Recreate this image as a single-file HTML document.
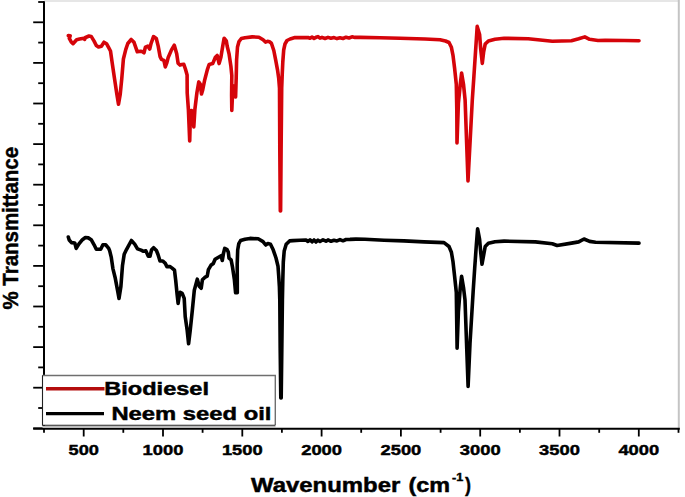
<!DOCTYPE html>
<html><head><meta charset="utf-8"><style>
html,body{margin:0;padding:0;background:#fff;}
svg{display:block;}
text{font-family:"Liberation Sans",sans-serif;font-weight:bold;fill:#000;stroke:#000;stroke-width:0.45px;}
</style></head><body>
<svg width="685" height="497" viewBox="0 0 685 497">
<line x1="44" y1="1" x2="678" y2="1" stroke="#e6e6e6" stroke-width="2.2"/>
<line x1="678.8" y1="0" x2="678.8" y2="429" stroke="#c4c4c4" stroke-width="2"/>
<line x1="38.2" y1="2.0" x2="44" y2="2.0" stroke="#000" stroke-width="1.8"/>
<line x1="33.2" y1="22.3" x2="44" y2="22.3" stroke="#000" stroke-width="1.8"/>
<line x1="38.2" y1="42.6" x2="44" y2="42.6" stroke="#000" stroke-width="1.8"/>
<line x1="33.2" y1="62.9" x2="44" y2="62.9" stroke="#000" stroke-width="1.8"/>
<line x1="38.2" y1="83.2" x2="44" y2="83.2" stroke="#000" stroke-width="1.8"/>
<line x1="33.2" y1="103.5" x2="44" y2="103.5" stroke="#000" stroke-width="1.8"/>
<line x1="38.2" y1="123.8" x2="44" y2="123.8" stroke="#000" stroke-width="1.8"/>
<line x1="33.2" y1="144.1" x2="44" y2="144.1" stroke="#000" stroke-width="1.8"/>
<line x1="38.2" y1="164.4" x2="44" y2="164.4" stroke="#000" stroke-width="1.8"/>
<line x1="33.2" y1="184.7" x2="44" y2="184.7" stroke="#000" stroke-width="1.8"/>
<line x1="38.2" y1="205.0" x2="44" y2="205.0" stroke="#000" stroke-width="1.8"/>
<line x1="33.2" y1="225.3" x2="44" y2="225.3" stroke="#000" stroke-width="1.8"/>
<line x1="38.2" y1="245.6" x2="44" y2="245.6" stroke="#000" stroke-width="1.8"/>
<line x1="33.2" y1="265.9" x2="44" y2="265.9" stroke="#000" stroke-width="1.8"/>
<line x1="38.2" y1="286.2" x2="44" y2="286.2" stroke="#000" stroke-width="1.8"/>
<line x1="33.2" y1="306.5" x2="44" y2="306.5" stroke="#000" stroke-width="1.8"/>
<line x1="38.2" y1="326.8" x2="44" y2="326.8" stroke="#000" stroke-width="1.8"/>
<line x1="33.2" y1="347.1" x2="44" y2="347.1" stroke="#000" stroke-width="1.8"/>
<line x1="38.2" y1="367.4" x2="44" y2="367.4" stroke="#000" stroke-width="1.8"/>
<line x1="33.2" y1="387.7" x2="44" y2="387.7" stroke="#000" stroke-width="1.8"/>
<line x1="38.2" y1="408.0" x2="44" y2="408.0" stroke="#000" stroke-width="1.8"/>
<line x1="33.2" y1="428.3" x2="44" y2="428.3" stroke="#000" stroke-width="1.8"/>
<line x1="44.0" y1="428.7" x2="44.0" y2="432.8" stroke="#000" stroke-width="1.8"/>
<line x1="83.7" y1="428.7" x2="83.7" y2="436.5" stroke="#000" stroke-width="1.8"/>
<line x1="123.3" y1="428.7" x2="123.3" y2="432.8" stroke="#000" stroke-width="1.8"/>
<line x1="163.0" y1="428.7" x2="163.0" y2="436.5" stroke="#000" stroke-width="1.8"/>
<line x1="202.6" y1="428.7" x2="202.6" y2="432.8" stroke="#000" stroke-width="1.8"/>
<line x1="242.3" y1="428.7" x2="242.3" y2="436.5" stroke="#000" stroke-width="1.8"/>
<line x1="281.9" y1="428.7" x2="281.9" y2="432.8" stroke="#000" stroke-width="1.8"/>
<line x1="321.6" y1="428.7" x2="321.6" y2="436.5" stroke="#000" stroke-width="1.8"/>
<line x1="361.2" y1="428.7" x2="361.2" y2="432.8" stroke="#000" stroke-width="1.8"/>
<line x1="400.9" y1="428.7" x2="400.9" y2="436.5" stroke="#000" stroke-width="1.8"/>
<line x1="440.6" y1="428.7" x2="440.6" y2="432.8" stroke="#000" stroke-width="1.8"/>
<line x1="480.2" y1="428.7" x2="480.2" y2="436.5" stroke="#000" stroke-width="1.8"/>
<line x1="519.9" y1="428.7" x2="519.9" y2="432.8" stroke="#000" stroke-width="1.8"/>
<line x1="559.5" y1="428.7" x2="559.5" y2="436.5" stroke="#000" stroke-width="1.8"/>
<line x1="599.2" y1="428.7" x2="599.2" y2="432.8" stroke="#000" stroke-width="1.8"/>
<line x1="638.8" y1="428.7" x2="638.8" y2="436.5" stroke="#000" stroke-width="1.8"/>
<line x1="678.5" y1="428.7" x2="678.5" y2="432.8" stroke="#000" stroke-width="1.8"/>
<line x1="44" y1="1.2" x2="44" y2="429.6" stroke="#000" stroke-width="2"/>
<line x1="33.2" y1="428.7" x2="679.8" y2="428.7" stroke="#000" stroke-width="2"/>
<text x="68.5" y="455.3" font-size="15.4" textLength="30.4" lengthAdjust="spacingAndGlyphs">500</text>
<text x="142.6" y="455.3" font-size="15.4" textLength="40.8" lengthAdjust="spacingAndGlyphs">1000</text>
<text x="221.9" y="455.3" font-size="15.4" textLength="40.8" lengthAdjust="spacingAndGlyphs">1500</text>
<text x="301.2" y="455.3" font-size="15.4" textLength="40.8" lengthAdjust="spacingAndGlyphs">2000</text>
<text x="380.5" y="455.3" font-size="15.4" textLength="40.8" lengthAdjust="spacingAndGlyphs">2500</text>
<text x="459.8" y="455.3" font-size="15.4" textLength="40.8" lengthAdjust="spacingAndGlyphs">3000</text>
<text x="539.1" y="455.3" font-size="15.4" textLength="40.8" lengthAdjust="spacingAndGlyphs">3500</text>
<text x="618.4" y="455.3" font-size="15.4" textLength="40.8" lengthAdjust="spacingAndGlyphs">4000</text>
<text x="251" y="491.9" font-size="19.5" textLength="149.3" lengthAdjust="spacingAndGlyphs">Wavenumber</text>
<text x="408.5" y="491.9" font-size="19.5" textLength="41.6" lengthAdjust="spacingAndGlyphs">(cm</text>
<text x="452" y="480.8" font-size="11" textLength="11.2" lengthAdjust="spacingAndGlyphs">-1</text>
<text x="465" y="491.9" font-size="19.5" textLength="6" lengthAdjust="spacingAndGlyphs">)</text>
<text transform="translate(18.1,309.6) rotate(-90)" font-size="21.5" textLength="162.7" lengthAdjust="spacingAndGlyphs">% Transmittance</text>
<polyline points="68.3,35.6 70.2,35.7 69.3,38.4 71.5,42.3 73,43.7 76.6,39.7 79.5,39 83.9,38.2 84.6,39.4 85.6,37.5 89,36 91.2,36.4 94.1,41.1 96.3,45.5 98.5,47 101.4,46.2 104,42.2 106.5,43.7 108.7,47.7 110.5,51 112.1,62.3 114.5,78.4 116.9,94.5 118.5,104.2 120.2,94.5 121.8,78.4 123.4,59 125.8,49.4 127.8,43.5 131.2,39.5 134,42.3 137.3,51.8 140.7,51.3 142.6,51.8 144,52.8 145.4,47.1 147.8,46.1 149.7,49 151.1,43.3 153.5,36.6 156.3,38.5 158.2,46.1 160.1,56.6 161.5,59.4 163.9,60.4 165.3,67 166.7,63.2 168.2,57.5 171.5,49.9 174.3,45.2 176.7,53.7 178.1,63.2 180,65.1 181.9,64.6 183.8,64.2 185.7,69.9 187.1,75 187.2,92.8 188.4,109.7 189.7,141 190.4,114.7 191.5,110.5 192.4,124 193.2,112 193.8,127 194.9,109.3 196.9,92.8 198.8,81.9 200.3,84.3 201.5,94 202.7,89.9 204.5,80.8 207.3,69.9 209.1,64.5 212.7,63.6 215.4,57.2 217.2,55.4 219.1,63.6 220.9,57.2 222.7,46.3 224.1,38.2 226.3,40.9 227.2,46.3 229,53.6 230.9,66.3 231.8,75.4 231.6,95 231.8,110.4 232.6,92 234,86 235.6,97 236.2,78 236.6,60 237.5,47 239,41.5 241.3,38.6 245,37.8 252.2,36.9 258.9,37.2 263.1,39.7 265.5,42.1 267.5,41.3 269.5,41.8 271.4,43.2 273.8,50.5 275.7,60.1 277.5,69.8 278.7,78.2 279.5,88 279.8,150 280.3,211 280.6,211 281.1,150 281.7,88 282.2,75 282.8,62 283.7,50 285,44 287,40.5 290.1,39 295,37.6 308,37.5 310,38.3 312,37.1 314,38.4 316,37.3 318,36.6 320,38.2 322,37.4 325,38.5 328,37.4 331,38.3 334,37.6 337,38.6 340,37.8 343,38.5 346,37.2 349,38 352,36.8 355,37.4 360,37.4 380,37.8 400,38.3 425,39 440,39.7 445.5,41 449,42.5 451.4,47.3 453,55.4 454.6,68.2 456.3,84.3 456.8,110 457,143 458.4,103 460.3,84.3 461.6,73 463.5,84.3 465.1,100 468,181 469,162 472.3,100 473.9,76.3 475.5,52.2 477.2,26.4 479.6,34.5 480.7,49 482.3,63.4 483.6,52.2 485.2,44.1 488.4,40.9 495,39.3 504.1,38.3 528.2,38.8 552.3,41.2 571.5,40.7 578.7,38.8 584.8,36.9 589.6,39.3 598,40.5 605.2,40.2 624.5,40.5 639,40.7" fill="none" stroke="#d5040a" stroke-width="3.6" stroke-linejoin="round" stroke-linecap="round"/>
<polyline points="68.3,237 69.2,240 71.5,242.6 74.8,243 76.2,248.4 78.8,244.1 82.4,239.7 85.4,237.5 88.3,237.9 91.2,239.7 94.1,244.8 96.3,249.2 100.7,249.2 102.9,244.8 105.8,244.8 108.7,248.4 109.7,250.9 111.3,257.4 112.9,268.6 115.3,278.3 117.7,291.2 119,298.4 120.9,286.4 122.5,265.4 124.2,254.2 126.6,249.3 131.4,240.5 134.7,244.1 137.5,248.9 141.1,250.1 143.5,251.3 145.9,250.9 148.3,256.2 150,256.2 151.6,249.7 153.6,247.7 156.4,250.5 158,254.5 160,261 162.8,261 165.3,263.4 166.9,266.6 170.1,266.6 172.1,268.1 174.5,270.2 175.7,280.2 177.1,294.4 178.1,303.4 179.2,296 180.2,292.3 182.2,293.3 184.2,298.4 185.2,316.5 187.2,330.6 188.6,343.8 190.2,330.6 192.3,310.5 194.3,290.3 197.3,279.2 199.3,286.3 201.2,288.3 202.4,279.8 204.8,277.4 207.2,276.2 208.4,269.6 210.9,265.3 213.3,263.5 215.1,259.3 218.1,257.5 221.1,255.7 222.3,260.5 223.5,253.3 224.7,248.4 227.1,249.7 228.3,252.1 229,258.1 231.1,259.9 232.6,267.7 234.4,279.8 235.6,292.8 237.3,292.8 237.3,280 237.2,264.1 237.7,250 238.8,243.6 240.6,240.6 245,239.3 250,238.4 258.2,238.8 263,241.6 265.7,245 267.8,243.6 270.5,244.3 273.2,249.8 276,258 278,266.2 278.7,275.7 279.4,286.7 279.8,300 280.2,350 280.8,398 281.2,398 281.8,350 282.4,300 282.8,280 283.3,262 284.2,251.1 286.2,244.3 289.6,240.9 292.9,240.6 300,240.3 306,240 308,241.5 310,239.8 312,241.8 314,240 316,242 318,240.2 320,241.5 323,239.8 326,241.2 328,239.9 331,241.3 334,240.3 337,240.9 340,239.6 343,240.8 346,239.5 350,239.4 356,239.1 365,239.3 384,240.2 404,240.9 424,241.9 444,242.6 449,246.5 451.4,252.2 453,261.8 454.6,276.3 456.3,292.3 457.1,348.3 458.4,311.8 460.3,287.5 461.6,276.3 463.5,287.5 465,300 468.1,386.5 470,343.5 473.1,292.3 474.7,268.2 476.4,244.1 477.6,228.8 479.6,239.3 480.7,252.2 482,264.2 483.6,255.4 485.2,246.5 488.4,243.3 495,241.7 504.1,241.1 535.4,241.9 552.3,243.8 557.1,245.5 571.5,243.1 578.7,241.9 584,239 589.6,241.4 595.6,242.3 639,243.1" fill="none" stroke="#000" stroke-width="3.6" stroke-linejoin="round" stroke-linecap="round"/>
<rect x="42.5" y="426" width="233" height="2" fill="#bdbdbd"/>
<rect x="42.6" y="375.6" width="232.6" height="49.6" fill="#fff"/>
<path d="M42.6,375.5 H275.3 V425.3" fill="none" stroke="#6f6f6f" stroke-width="1.4"/>
<path d="M42.5,375.2 V425.3 H275.3" fill="none" stroke="#222" stroke-width="1.1"/>
<line x1="46" y1="388.8" x2="104.5" y2="388.8" stroke="#b40d0d" stroke-width="3.4"/>
<line x1="46" y1="413.6" x2="104" y2="413.6" stroke="#000" stroke-width="3.4"/>
<text x="104.3" y="395.4" font-size="17.8" textLength="104.7" lengthAdjust="spacingAndGlyphs">Biodiesel</text>
<text x="111.4" y="420.4" font-size="18.5" textLength="160" lengthAdjust="spacingAndGlyphs">Neem seed oil</text>
</svg>
</body></html>
